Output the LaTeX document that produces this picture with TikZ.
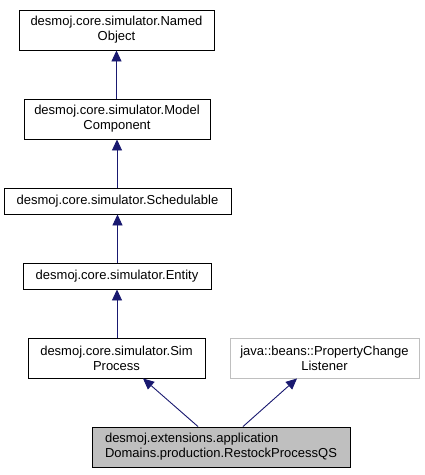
\documentclass[tikz,border=0pt]{standalone}
\usepackage{fontspec}
\setmainfont{Liberation Sans}
\usetikzlibrary{arrows.meta}
\definecolor{navy}{HTML}{191970}
\definecolor{greyf}{HTML}{BFBFBF}
\begin{document}
\begin{tikzpicture}[x=1pt,y=-1pt,
  cls/.style={draw=black,line width=0.9pt,inner sep=0pt,align=center,
    font=\fontsize{13}{15}\selectfont},
  arr/.style={draw=navy,line width=0.9pt,-{Triangle[length=11pt,width=10pt,fill=navy]}}]
\useasboundingbox[fill=white] (0,0) rectangle (425,475);
\node[cls,minimum width=195pt,minimum height=40pt] (no) at (116.5,30) {desmoj.core.simulator.Named\\Object};
\node[cls,minimum width=186pt,minimum height=40pt] (mc) at (117,119) {desmoj.core.simulator.Model\\Component};
\node[cls,minimum width=227pt,minimum height=26pt] (sc) at (117.5,201) {desmoj.core.simulator.Schedulable};
\node[cls,minimum width=188pt,minimum height=26pt] (en) at (117,276) {desmoj.core.simulator.Entity};
\node[cls,minimum width=177pt,minimum height=40pt] (sp) at (116.5,358) {desmoj.core.simulator.Sim\\Process};
\node[cls,draw=greyf,minimum width=189pt,minimum height=40pt] (pc) at (324.5,358) {java::beans::PropertyChange\\Listener};
\node[cls,fill=greyf,align=left,minimum width=258pt,minimum height=40pt] (rs) at (221,447) {desmoj.extensions.application\\Domains.production.RestockProcessQS};
\draw[arr] (mc.north -| no.south) -- (no.south);
\draw[arr] (sc.north -| mc.south) -- (mc.south);
\draw[arr] (en.north -| sc.south) -- (sc.south);
\draw[arr] (sp.north -| en.south) -- (en.south);
\draw[arr] ([xshift=-23pt]rs.north) -- ([xshift=26.5pt]sp.south);
\draw[arr] ([xshift=22pt]rs.north) -- ([xshift=-27.5pt]pc.south);
\end{tikzpicture}
\end{document}
